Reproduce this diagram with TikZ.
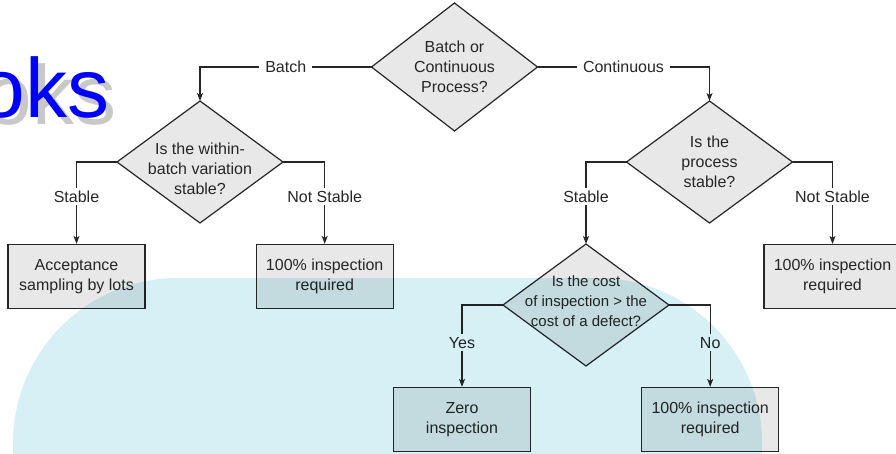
\documentclass[tikz,border=0pt]{standalone}
\usepackage{fontspec}
\setmainfont{Liberation Sans}
\newfontfamily\bigfont{Liberation Sans}
\usepackage{tikz}
\usetikzlibrary{positioning,arrows.meta,shapes.geometric}
\definecolor{inkgray}{RGB}{38,38,38}
\definecolor{boxgray}{RGB}{232,232,232}
\definecolor{bgcyan}{RGB}{215,240,246}
\definecolor{shadegray}{RGB}{200,200,200}

\begin{document}
\begin{tikzpicture}[
  x=1pt, y=1pt,
  node distance=110pt,
  box/.style={draw=inkgray,fill=boxgray,line width=1.2pt,minimum width=137pt,minimum height=64pt,align=center,text=inkgray,font=\fontsize{16}{20}\selectfont},
  dec/.style={diamond,draw=inkgray,fill=boxgray,line width=1.2pt,inner sep=0pt,outer sep=0pt,minimum width=166pt,minimum height=122pt},
  dtxt/.style={align=center,text=inkgray,font=\fontsize{16}{20}\selectfont},
  arr/.style={-{Stealth[length=8pt,width=6pt,inset=2pt]},line width=1.2pt,draw=inkgray},
  lbl/.style={fill=white,inner xsep=6pt,inner ysep=3pt,text=inkgray,font=\fontsize{16}{20}\selectfont},
]
\useasboundingbox (0,0) rectangle (896,-454);

\node[text=shadegray,anchor=base east,font={\bigfont\fontsize{84}{90}\selectfont}] (oksshade) at (120,-125) {oks};
\node[text=blue,anchor=base east,font={\bigfont\fontsize{84}{90}\selectfont}] (oks) at (113,-118) {oks};

\node[dec,minimum height=128pt,label={[dtxt]center:Batch or\\Continuous\\Process?}] (q1) at (454.5,-67) {};
\node[dec,label={[dtxt,yshift=-7pt]center:Is the within-\\batch variation\\stable?}] (q2) at (200,-162) {};
\node[dec,label={[dtxt]center:Is the\\process\\stable?}] (q3) at (709.5,-162) {};
\node[dec,label={[dtxt,font=\fontsize{15}{20}\selectfont,yshift=4pt]center:Is the cost\\of inspection > the\\cost of a defect?}] (q4) at (586,-305) {};

\node[box]                (acc)   at (76.5,-276.5) {Acceptance\\sampling by lots};
\node[box, right=of acc]  (insp1) {100\% inspection\\required};
\node[box]                (insp2) at (832.5,-276.5) {100\% inspection\\required};
\node[box]                (zero)  at (462,-419.5) {Zero\\inspection};
\node[box, right=of zero] (insp3) {100\% inspection\\required};

\draw[arr] (q1.west) -| node[lbl,pos=0.25]{Batch}      (q2.north);
\draw[arr] (q1.east) -| node[lbl,pos=0.25]{Continuous} (q3.north);
\draw[arr] (q2.west) -| node[lbl,pos=0.71]{Stable}     (acc.north);
\draw[arr] (q2.east) -| node[lbl,pos=0.71]{Not Stable} (insp1.north);
\draw[arr] (q3.west) -| node[lbl,pos=0.71]{Stable}     (q4.north);
\draw[arr] (q3.east) -| node[lbl,pos=0.71]{Not Stable} (insp2.north);
\draw[arr] (q4.west) -| node[lbl,pos=0.73]{Yes}        (zero.north);
\draw[arr] (q4.east) -| node[lbl,pos=0.73]{No}         (insp3.north);

\fill[bgcyan,blend mode=multiply] (13,-470) -- (13,-443) arc[start angle=180,end angle=90,radius=165]
  -- (597,-278) arc[start angle=90,end angle=0,radius=165] -- (762,-470) -- cycle;
\end{tikzpicture}
\end{document}
